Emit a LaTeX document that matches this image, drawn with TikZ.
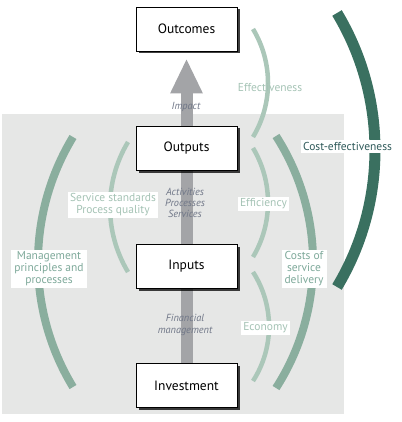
\documentclass[tikz,border=0pt]{standalone}
\usepackage{fontspec}
\setmainfont{PT Sans}
\usetikzlibrary{arrows.meta,shadows}
\pgfdeclarelayer{back}
\pgfdeclarelayer{mid}
\pgfsetlayers{back,mid,main}
\definecolor{bggrey}{HTML}{E6E7E6}
\definecolor{arrowgrey}{HTML}{A3A4A7}
\definecolor{darkarc}{HTML}{3A7060}
\definecolor{midarc}{HTML}{8AAE9E}
\definecolor{lightarc}{HTML}{ABC7B9}
\definecolor{midtext}{HTML}{7EA99A}
\definecolor{lighttext}{HTML}{A5C3B5}
\definecolor{darktext}{HTML}{2F5A5A}
\definecolor{italtext}{HTML}{6F7687}
\tikzset{
  stage/.style={draw=black, line width=0.9pt, fill=white, minimum width=101pt, minimum height=44pt,
    inner sep=0pt, font=\fontsize{13.5}{15}\selectfont,
    drop shadow={shadow xshift=2.5pt, shadow yshift=-2.5pt, fill=black, opacity=0.75}},
  flowlabel/.style={font=\fontsize{10.3}{11.3}\selectfont\itshape, text=italtext, align=center, inner sep=0pt},
  arclabel/.style={fill=white, font=\fontsize{11.5}{12}\selectfont, align=center, inner sep=2pt},
  thinarc/.style={line width=4.5pt, lightarc},
  thickarc/.style={line width=8pt, midarc},
}
\begin{document}
\begin{tikzpicture}[x=1pt, y=-1pt]
\useasboundingbox (0,0) rectangle (401,422);
\begin{pgfonlayer}{back}
\fill[bggrey] (2,114) rectangle (344,414);
\end{pgfonlayer}
% arcs
\draw[thickarc] (73,137) arc[start angle=211.29, end angle=148.71, radius=240.7];
\draw[thinarc] (128,142) arc[start angle=210.95, end angle=149.05, radius=126.4];
\draw[thinarc] (253,29) arc[start angle=-31.05, end angle=31.05, radius=104.7];
\draw[thinarc] (253,148) arc[start angle=-30.78, end angle=30.78, radius=106.5];
\draw[thinarc] (253,272) arc[start angle=-32.73, end angle=32.73, radius=100.8];
\draw[thickarc] (276,136) arc[start angle=-32.74, end angle=32.74, radius=233.0];
\draw[line width=11pt, darkarc] (337,13) arc[start angle=-31.0, end angle=31.0, radius=265.96];
% stage boxes
\node[stage] (outc) at (186.5,29) {Outcomes};
\node[stage] (outp) at (186.5,148) {Outputs};
\node[stage] (inp) at (186.5,266.5) {Inputs};
\node[stage] (inv) at (186.5,385.5) {Investment};
% arrow
\coordinate (tip) at ([yshift=-7pt]outc.south);
\begin{pgfonlayer}{mid}
\draw[arrowgrey, line width=12pt, -{Triangle[width=30pt,length=35pt]}] (inv.north) -- (tip);
\end{pgfonlayer}
% flow labels
\node[flowlabel] (impact) at (186,107) {Impact};
\node[flowlabel] (act) at (185,203) {Activities\\Processes\\Services};
\node[flowlabel] (fin) at (185,325) {Financial\\management};
% arc labels
\node[font=\fontsize{11.5}{12}\selectfont, text=lighttext, inner sep=1pt] (eff) at (270,87) {Effectiveness};
\node[arclabel, text=darktext] (ce) at (347.5,146.5) {Cost-effectiveness};
\node[arclabel, text=lighttext] (effi) at (263.5,204) {Efficiency};
\node[arclabel, text=lighttext] (eco) at (265.5,328) {Economy};
\node[arclabel, text=midtext, inner xsep=3pt] (costs) at (304,269) {Costs of\\service\\delivery};
\node[arclabel, text=midtext, inner xsep=3pt] (mgmt) at (49,269) {Management\\principles and\\processes};
\node[arclabel, text=lighttext, inner xsep=2.5pt] (serv) at (113,205) {Service standards\\Process quality};
\end{tikzpicture}
\end{document}
